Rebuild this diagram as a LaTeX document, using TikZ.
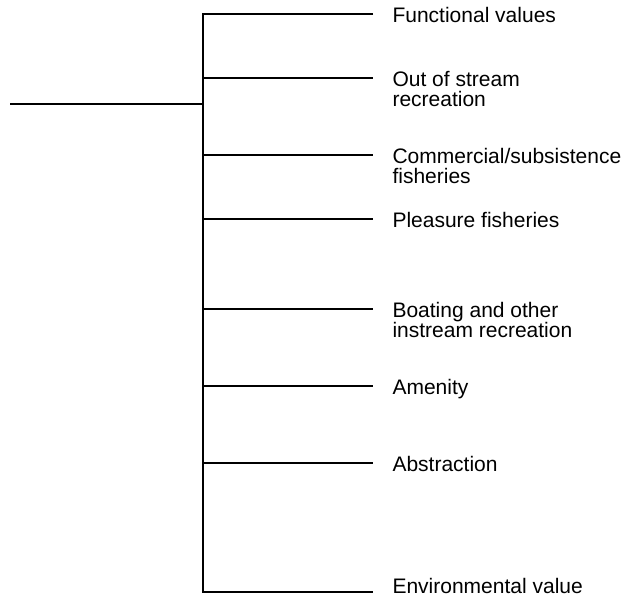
\documentclass[tikz,border=0pt]{standalone}
\usepackage{fontspec}
\setmainfont{Liberation Sans}
\usetikzlibrary{calc}

\begin{document}
\begin{tikzpicture}[x=1pt,y=-1pt,line width=1.1pt,
  leaf node/.style={anchor=base west,align=left,inner sep=0pt,font=\fontsize{21}{20}\selectfont}]

\useasboundingbox (0,0) rectangle (625,597);

% trunk and spine
\coordinate (root) at (10,104);
\coordinate (hub) at (203,104);
\coordinate (J1) at (203,14);
\coordinate (J2) at (203,78);
\coordinate (J3) at (203,155);
\coordinate (J4) at (203,219);
\coordinate (J5) at (203,309);
\coordinate (J6) at (203,386);
\coordinate (J7) at (203,463);
\coordinate (J8) at (203,592);

% branch ends
\coordinate (E1) at ($(J1) + (170,0)$);
\coordinate (E2) at ($(J2) + (170,0)$);
\coordinate (E3) at ($(J3) + (170,0)$);
\coordinate (E4) at ($(J4) + (170,0)$);
\coordinate (E5) at ($(J5) + (170,0)$);
\coordinate (E6) at ($(J6) + (170,0)$);
\coordinate (E7) at ($(J7) + (170,0)$);
\coordinate (E8) at ($(J8) + (170,0)$);

% base of a two line label is its last line
\node[leaf node](L1) at ($(E1) + (19,8)$) {Functional values};
\node[leaf node](L2) at ($(E2) + (19,28)$) {Out of stream\\recreation};
\node[leaf node](L3) at ($(E3) + (19,28)$) {Commercial/subsistence\\fisheries};
\node[leaf node](L4) at ($(E4) + (19,8)$) {Pleasure fisheries};
\node[leaf node](L5) at ($(E5) + (19,28)$) {Boating and other\\instream recreation};
\node[leaf node](L6) at ($(E6) + (19,8)$) {Amenity};
\node[leaf node](L7) at ($(E7) + (19,8)$) {Abstraction};
\node[leaf node](L8) at ($(E8) + (19,1)$) {Environmental value};

\draw (root) -- (hub);
\draw (E1) -- (J1) -- (J8) -- (E8);
\path[draw]
(J2) edge (E2)
(J3) edge (E3)
(J4) edge (E4)
(J5) edge (E5)
(J6) edge (E6)
(J7) edge (E7);

\end{tikzpicture}
\end{document}
